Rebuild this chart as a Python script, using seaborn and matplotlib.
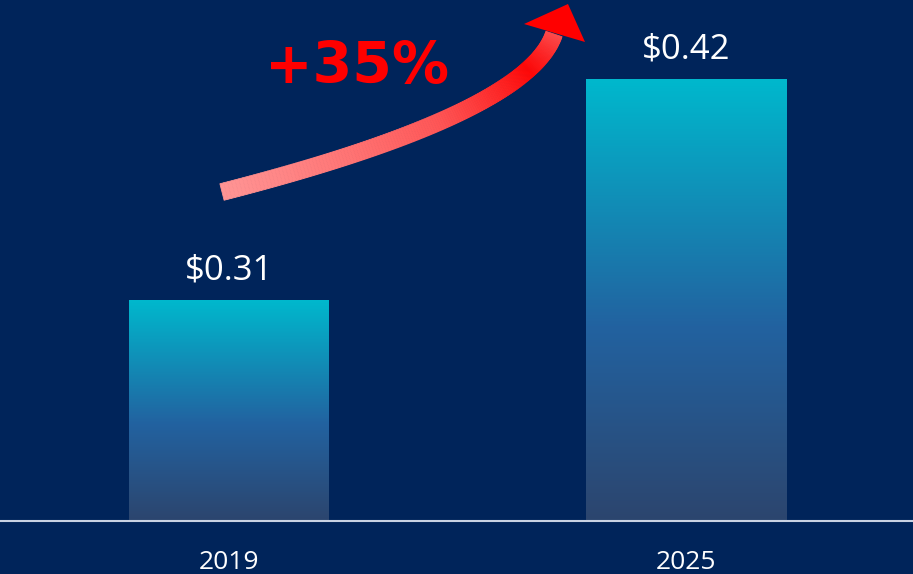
import numpy as np
import pandas as pd
import matplotlib
matplotlib.use("Agg")
import matplotlib.pyplot as plt
from matplotlib.colors import LinearSegmentedColormap
from matplotlib.collections import PolyCollection
from matplotlib.patches import Polygon
import matplotlib.transforms as mtransforms
import seaborn as sns

# ---- data ----
years = ["2019", "2025"]
prices = [0.31, 0.42]
value_labels = ["$0.31", "$0.42"]
growth_label = "+35%"

BG = "#00245A"
W, H, DPI = 913, 574, 100

sns.set_theme(style="white")
plt.rcParams["font.family"] = ["Open Sans", "DejaVu Sans"]

fig = plt.figure(figsize=(W / DPI, H / DPI), dpi=DPI, facecolor=BG)
ax = fig.add_axes([0, 53 / H, 1, 521 / H])
ax.set_facecolor(BG)

df = pd.DataFrame({"year": years, "price": prices})
sns.barplot(data=df, x="year", y="price", ax=ax, width=200 / 457,
            color="#00B7CD", saturation=1, errorbar=None)

ymin = 0.20
ax.set_ylim(ymin, ymin + 521 / 2009)
ax.set_xlim(-229 / 457, (913 - 229) / 457)

cmap = LinearSegmentedColormap.from_list(
    "barfade", [(0.0, "#2C456E"), (0.44, "#2262A0"), (1.0, "#00B8CD")])
grad = np.linspace(0, 1, 256).reshape(-1, 1)
for p in list(ax.patches):
    x0, w = p.get_x(), p.get_width()
    top = p.get_y() + p.get_height()
    p.set_facecolor("none")
    p.set_edgecolor("none")
    im = ax.imshow(grad, extent=[x0, x0 + w, ymin, top], origin="lower",
                   aspect="auto", cmap=cmap, zorder=2)
    im.set_clip_path(p)

for i, (v, lab) in enumerate(zip(prices, value_labels)):
    ax.annotate(lab, (i, v), xytext=(0, 15), textcoords="offset points",
                ha="center", va="baseline", color="white", fontsize=25)

for s in ax.spines.values():
    s.set_visible(False)
ax.set_xticks([])
ax.set_yticks([])
ax.set_xlabel("")
ax.set_ylabel("")
ax.axhline(ymin, color="#C9D2E3", lw=1.5, zorder=5, clip_on=False)

blend = mtransforms.blended_transform_factory(ax.transData, fig.transFigure)
for i, yr in enumerate(years):
    ax.text(i, (H - 569) / H, yr, transform=blend,
            ha="center", va="baseline", color="white", fontsize=19)

# ---- curved growth arrow (overlay in pixel coords) ----
ov = fig.add_axes([0, 0, 1, 1], facecolor="none")
ov.set_xlim(0, W)
ov.set_ylim(H, 0)
ov.axis("off")

P0 = np.array([222.0, 192.0])
P1 = np.array([527.0, 114.0])
P2 = np.array([554.0, 34.0])
t = np.linspace(0, 1, 160)[:, None]
pts = (1 - t) ** 2 * P0 + 2 * (1 - t) * t * P1 + t ** 2 * P2
d = 2 * (1 - t) * (P1 - P0) + 2 * t * (P2 - P1)
d = d / np.linalg.norm(d, axis=1, keepdims=True)
nrm = np.column_stack([-d[:, 1], d[:, 0]])
half = 8.5
L = pts + nrm * half
R = pts - nrm * half
acmap = LinearSegmentedColormap.from_list(
    "arrow", [(0.0, "#FF9494"), (0.45, "#FF5555"), (0.78, "#FF0808"), (1.0, "#FF4A4A")])
polys, cols = [], []
for k in range(len(t) - 1):
    polys.append([L[k], L[k + 1], R[k + 1], R[k]])
    cols.append(acmap(k / (len(t) - 2)))
ov.add_collection(PolyCollection(polys, facecolors=cols, edgecolors=cols, linewidths=0.6))
ov.add_patch(Polygon([[524, 24], [568, 4], [585, 42]], closed=True,
                     facecolor="#FF0000", edgecolor="none"))

ov.text(357, 83, growth_label, ha="center", va="baseline", color="#FF0000",
        fontsize=41, fontweight="bold", family=["DejaVu Sans"])

fig.savefig("out.png", dpi=DPI, facecolor=BG)
